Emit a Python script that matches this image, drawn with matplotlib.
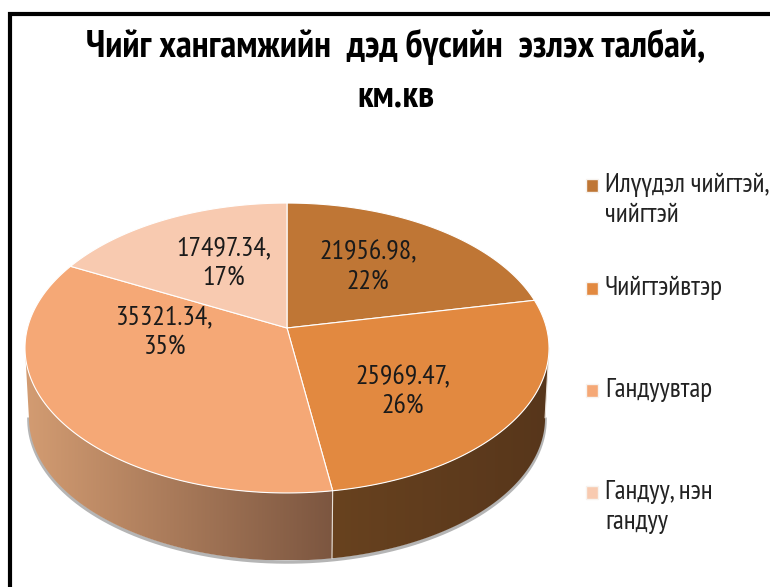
import numpy as np
import matplotlib
matplotlib.use("Agg")
import matplotlib.pyplot as plt
from matplotlib.colors import LinearSegmentedColormap
from matplotlib.patches import Polygon, Rectangle

title_lines = ["Чийг хангамжийн  дэд бүсийн  эзлэх талбай,", "км.кв"]
areas = [21956.98, 25969.47, 35321.34, 17497.34]
percents = ["22%", "26%", "35%", "17%"]
legend_names = ["Илүүдэл чийгтэй,\nчийгтэй", "Чийгтэйвтэр", "Гандуувтар", "Гандуу, нэн\nгандуу"]
top_colors = ["#bf7635", "#e28940", "#f5a876", "#f8cab0"]
wall_left = ["#8a5a2c", "#68421f", "#d39c72", "#c9a58c"]
wall_right = ["#6a4520", "#57361b", "#7c5640", "#a08570"]

plt.rcParams['font.family'] = ['Carlito', 'Liberation Sans', 'DejaVu Sans']
narrow_fonts = ['PT Sans Narrow', 'Open Sans Condensed', 'Carlito', 'Liberation Sans', 'DejaVu Sans']

# disc seen in perspective, centre of the pie is not centre of the ellipse
cx, cy = 287, 328
a, b, k = 142.2, 259.5, 0.138
depth = 70
shrink = 0.985


def rim(theta, drop=0, scale=1.0):
	x = np.sin(theta)
	y = np.cos(theta)
	w = 1 + k * y
	return cx + scale * b * x / w, cy - scale * a * y / w + drop


fig = plt.figure(figsize=(7.7, 5.87), dpi=100)
ax = fig.add_axes([0, 0, 1, 1])
ax.set_xlim(0, 770)
ax.set_ylim(587, 0)
ax.axis("off")

ax.add_patch(Rectangle((10, 14), 800, 620, fc="white", ec="black", lw=3))

edges = np.cumsum([0] + areas) / sum(areas) * 2 * np.pi
front_start = np.arccos(-k)
front_end = 2 * np.pi - front_start

# soft grey shadow under the wall
t = np.linspace(front_start, front_end, 200)
xs, ys = rim(t, depth + 1.5, shrink)
ax.plot(xs, ys, color="#b5b5b5", lw=2.5, zorder=1)

for i in range(len(areas)):
	lo = max(edges[i], front_start)
	hi = min(edges[i + 1], front_end)
	if hi <= lo:
		continue
	t = np.linspace(lo, hi, 120)
	x1, y1 = rim(t)
	x2, y2 = rim(t[::-1], depth, shrink)
	poly = Polygon(np.column_stack([np.r_[x1, x2], np.r_[y1, y2]]), fc="none", ec="none", zorder=2)
	ax.add_patch(poly)
	cmap = LinearSegmentedColormap.from_list("wall", [wall_left[i], wall_right[i]])
	left, right = min(x1.min(), x2.min()), max(x1.max(), x2.max())
	top, bottom = min(y1.min(), y2.min()), max(y1.max(), y2.max())
	grad = np.linspace(0, 1, 256).reshape(1, -1)
	im = ax.imshow(grad, cmap=cmap, extent=[left, right, bottom, top], aspect="auto", zorder=2)
	im.set_clip_path(poly)
	ax.plot([x1[0], x2[-1]], [y1[0], y2[-1]], color="#e8e0d8", lw=0.8, zorder=3)

ax.set_xlim(0, 770)
ax.set_ylim(587, 0)

for i in range(len(areas)):
	t = np.linspace(edges[i], edges[i + 1], 200)
	x, y = rim(t)
	ax.fill(np.r_[cx, x], np.r_[cy, y], fc=top_colors[i], ec="white", lw=0.8, zorder=4)

label_pos = [(368, 267), (403, 392), (165, 332), (224, 263)]
for i in range(len(areas)):
	ax.text(label_pos[i][0], label_pos[i][1], "%.2f,\n%s" % (areas[i], percents[i]), ha="center", va="center",
		family=narrow_fonts, fontsize=20, color="#1a1a1a", linespacing=1.3, zorder=5)

legend_y = [185, 288, 390, 492]
for i in range(len(legend_names)):
	ax.add_patch(Rectangle((586, legend_y[i] - 6.5), 12, 13, fc=top_colors[i], ec="#f7f3ef", lw=1, zorder=5))
	ax.text(605, legend_y[i] - 12, legend_names[i], ha="left", va="top", family=narrow_fonts, fontsize=19.5, color="#222222",
		linespacing=1.3, zorder=5)

ax.text(396, 47, title_lines[0], ha="center", va="center", family=narrow_fonts, fontsize=27.5, fontweight="bold", color="black", zorder=5)
ax.text(396, 97, title_lines[1], ha="center", va="center", family=narrow_fonts, fontsize=27.5, fontweight="bold", color="black", zorder=5)

fig.savefig("out.png", dpi=100)
